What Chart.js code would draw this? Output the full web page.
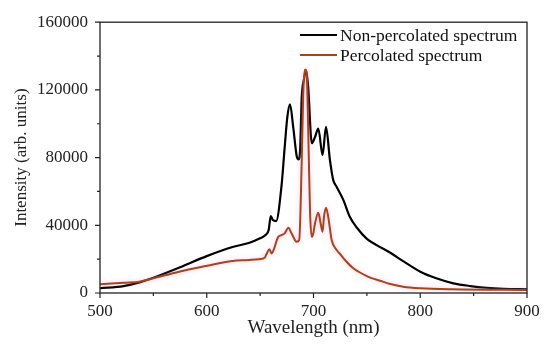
<!DOCTYPE html>
<html>
<head>
<meta charset="utf-8">
<script src="https://cdn.jsdelivr.net/npm/chart.js@4/dist/chart.umd.min.js"></script>
<style>
html,body{margin:0;padding:0;background:#fff;}
canvas{display:block;}
</style>
</head>
<body>
<canvas id="c" width="550" height="344"></canvas>
<script>
// ---- data ----
const seriesNames = ['Non-percolated spectrum', 'Percolated spectrum'];

const nonPercWavelength = [500,522,537,550,575,600,625,640,650,655,658,660,662,665,670,673,675.5,678,681,684.4,686,687.4,689,691,693,695,698.4,701.5,704.5,708.5,711.7,715.4,718.5,721.7,728,734,740.5,750,760,770,784,800,815,831,847,862,878,900];
const nonPercIntensity  = [2800,4100,6300,9000,15200,21800,27300,29700,32300,34200,37200,45500,43000,42500,63000,86000,104000,111500,98000,80500,79000,84000,116000,126000,131500,122000,88500,92300,97200,81500,98200,78500,66700,62700,54900,45000,38700,32000,28000,24500,18800,12600,8700,5700,4100,3100,2500,2200];

const percWavelength = [500,522,537,549,574,599,624,640,649,654.5,656,658.6,660.8,663,665.5,667,670,673,676.4,679.5,684.2,686.6,689,690.4,692,693.6,695,696.7,698.3,699.8,701.4,704.5,706.7,708.5,709.8,711.7,713.8,717,721.7,725,729.5,737.3,750,765,772,784,800,830,900];
const percIntensity  = [5100,6100,6700,8500,12600,15900,18900,19500,20000,21000,23000,25800,23400,26000,31000,33200,34200,35200,38500,35200,30300,31300,78500,118000,132000,130000,98000,49000,33200,35200,41100,47400,41100,36200,45000,50400,45000,31300,25400,23000,19500,14600,10000,6700,5300,3700,2800,2200,1800];

const xTicks = [500,600,700,800,900];
const yTicks = [0,40000,80000,120000,160000];

const FONT = "'Liberation Serif', 'Times New Roman', serif";
const ORANGE = 'rgb(163,70,30)';

function pts(xs, ys){ return xs.map((x,i)=>({x:x, y:ys[i]})); }

const framePlugin = {
  id:'frame',
  afterDatasetsDraw(chart){
    const {ctx, chartArea:a, scales:{x, y}} = chart;
    ctx.save();
    ctx.strokeStyle = '#222';
    ctx.lineWidth = 1.3;
    ctx.strokeRect(a.left, a.top, a.right - a.left, a.bottom - a.top);
    ctx.lineWidth = 1.2;
    ctx.beginPath();
    for (let v = 500; v <= 900; v += 50){
      const px = x.getPixelForValue(v);
      const len = (v % 100 === 0) ? 5 : 3;
      ctx.moveTo(px, a.bottom); ctx.lineTo(px, a.bottom + len);
    }
    for (let v = 0; v <= 160000; v += 20000){
      const py = y.getPixelForValue(v);
      const len = (v % 40000 === 0) ? 5 : 3;
      ctx.moveTo(a.left, py); ctx.lineTo(a.left - len, py);
    }
    ctx.stroke();
    ctx.restore();
  }
};

const legendPlugin = {
  id:'innerLegend',
  afterDraw(chart){
    const {ctx} = chart;
    const ds = chart.data.datasets;
    const items = [ds[1], ds[0]]; // black first, then orange
    ctx.save();
    ctx.font = "17.5px " + FONT;
    ctx.textBaseline = 'middle';
    ctx.textAlign = 'left';
    items.forEach((d, i) => {
      const yy = 35 + i * 20;
      ctx.strokeStyle = d.borderColor;
      ctx.lineWidth = 2.2;
      ctx.beginPath(); ctx.moveTo(300, yy); ctx.lineTo(337, yy); ctx.stroke();
      ctx.fillStyle = '#111';
      ctx.fillText(d.label, 340, yy + 1);
    });
    ctx.restore();
  }
};

const glowPlugin = {
  id:'glow',
  beforeDatasetDraw(chart, args){
    if (args.index === 0){
      chart.ctx.save();
      chart.ctx.shadowColor = 'rgba(255,120,200,0.45)';
      chart.ctx.shadowBlur = 5;
    }
  },
  afterDatasetDraw(chart, args){
    if (args.index === 0){ chart.ctx.restore(); }
  }
};

new Chart(document.getElementById('c'), {
  type:'line',
  data:{
    datasets:[
      {
        label: seriesNames[1],
        data: pts(percWavelength, percIntensity),
        borderColor: ORANGE,
        borderWidth: 2,
        pointRadius: 0,
        cubicInterpolationMode: 'monotone',
        order: 0
      },
      {
        label: seriesNames[0],
        data: pts(nonPercWavelength, nonPercIntensity),
        borderColor: '#000',
        borderWidth: 2.2,
        pointRadius: 0,
        cubicInterpolationMode: 'monotone',
        order: 1
      }
    ]
  },
  options:{
    responsive:false,
    devicePixelRatio:1,
    animation:false,
    layout:{padding:{left:0, right:23, top:22, bottom:0}},
    plugins:{legend:{display:false}, tooltip:{enabled:false}},
    scales:{
      x:{
        type:'linear',
        min:500, max:900,
        afterFit(s){ s.height = 51; },
        afterBuildTicks(s){ s.ticks = xTicks.map(v=>({value:v})); },
        grid:{display:false, drawTicks:false},
        border:{display:false},
        ticks:{padding:8, color:'#222', font:{family:FONT, size:17}, maxRotation:0, callback:v=>String(v)},
        title:{display:true, text:'Wavelength (nm)', color:'#222', font:{family:FONT, size:19}, padding:{top:0, bottom:5}}
      },
      y:{
        min:0, max:160000,
        afterFit(s){ s.width = 100; },
        afterBuildTicks(s){ s.ticks = yTicks.map(v=>({value:v})); },
        grid:{display:false, drawTicks:false},
        border:{display:false},
        ticks:{padding:12, color:'#222', font:{family:FONT, size:17}, callback:v=>String(v)},
        title:{display:true, text:'Intensity (arb. units)', color:'#222', font:{family:FONT, size:17}, padding:{top:11, bottom:0}}
      }
    }
  },
  plugins:[framePlugin, legendPlugin, glowPlugin]
});
</script>
</body>
</html>
